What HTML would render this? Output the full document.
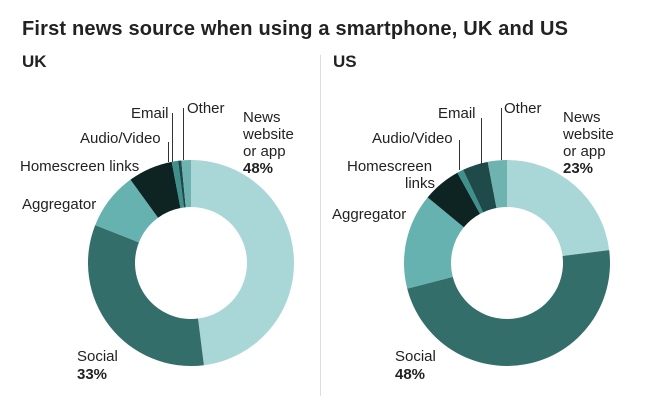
<!DOCTYPE html>
<html><head><meta charset="utf-8"><style>
body{margin:0;background:#fff;}
svg{display:block;font-family:"Liberation Sans",Arial,sans-serif;}
text{fill:#222;font-size:15px;}
.b{font-weight:bold;}
</style></head><body>
<svg id="s" width="650" height="400" viewBox="0 0 650 400">
<text x="22" y="35" class="b" style="font-size:20px" textLength="546">First news source when using a smartphone, UK and US</text>
<text x="22" y="67" class="b" style="font-size:17px">UK</text>
<text x="333" y="67" class="b" style="font-size:17px">US</text>
<line x1="320.5" y1="55" x2="320.5" y2="396" stroke="#ddd" stroke-width="1"/>
<g id="g"></g>
<!-- UK labels -->
<text x="131" y="118">Email</text>
<text x="187" y="113">Other</text>
<text x="80" y="143">Audio/Video</text>
<text x="20" y="171">Homescreen links</text>
<text x="22" y="209">Aggregator</text>
<text x="243" y="122">News</text><text x="243" y="139">website</text><text x="243" y="156">or app</text><text x="243" y="173" class="b">48%</text>
<text x="77" y="361">Social</text><text x="77" y="379" class="b">33%</text>
<path d="M172.5 113V162M168.5 142V162M183.5 108V160" stroke="#333" stroke-width="1" fill="none"/>
<!-- US labels -->
<text x="438" y="118">Email</text>
<text x="504" y="113">Other</text>
<text x="372" y="143">Audio/Video</text>
<text x="347" y="171">Homescreen</text><text x="405" y="188">links</text>
<text x="332" y="219">Aggregator</text>
<text x="563" y="122">News</text><text x="563" y="139">website</text><text x="563" y="156">or app</text><text x="563" y="173" class="b">23%</text>
<text x="395" y="361">Social</text><text x="395" y="379" class="b">48%</text>
<path d="M481.5 118V166M459.5 140V170M501.5 108V160" stroke="#333" stroke-width="1" fill="none"/>
</svg>
<script>
var cols=["#a9d6d6","#336e6b","#66b2b0","#0d2423","#3f8f8c","#1e4b49","#6fb3b1"];
function donut(cx,cy,R,r,vals){
 var g=document.getElementById('g'),a=0,out='';
 vals.forEach(function(v,i){
  var a0=a,a1=a+v*3.6;a=a1;
  var p=function(rad,ang){var t=(ang-90)*Math.PI/180;return (cx+rad*Math.cos(t)).toFixed(2)+' '+(cy+rad*Math.sin(t)).toFixed(2);};
  var L=(a1-a0)>180?1:0;
  out+='<path fill="'+cols[i]+'" d="M'+p(R,a0)+'A'+R+' '+R+' 0 '+L+' 1 '+p(R,a1)+'L'+p(r,a1)+'A'+r+' '+r+' 0 '+L+' 0 '+p(r,a0)+'Z"/>';
 });
 g.innerHTML+=out;
}
donut(191,263,103,56,[48,33,9,7,1,0.5,1.5]);
donut(507,263,103,56,[23,48,15,6,1,4,3]);
</script>
</body></html>
